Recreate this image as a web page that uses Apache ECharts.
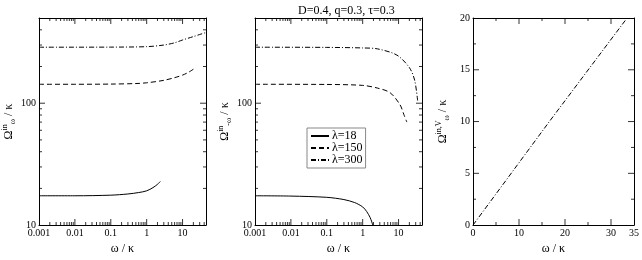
<!DOCTYPE html>
<html><head><meta charset="utf-8">
<script src="https://cdn.jsdelivr.net/npm/echarts@6/dist/echarts.min.js"></script>
<style>html,body{margin:0;padding:0;background:#fff}#c{width:642px;height:260px}</style>
</head><body><div id="c"></div>
<script>
// ---- data ----
const legendNames = ['λ=18', 'λ=150', 'λ=300'];
// panel 1 : Omega^in_omega
const p1_l18  = [[0.001,17.4],[0.01,17.4],[0.1,17.6],[0.3,18.0],[0.6,18.5],[1,19.1],[1.5,20.3],[2,21.6],[2.4,22.8]];
const p1_l150 = [[0.001,143],[0.01,143],[0.1,143.5],[0.5,145],[1,147],[3,154],[6,162],[10,170],[15,180],[20,190]];
const p1_l300 = [[0.001,288],[0.1,288.5],[1,291],[3,300],[6,313],[10,330],[20,352],[30,366],[45,380]];
// panel 2 : Omega^in_-omega
const p2_l18  = [[0.001,17.4],[0.01,17.3],[0.1,16.9],[0.3,16.2],[0.6,15.3],[1,14.1],[1.3,12.9],[1.6,11.6],[1.8,10.6],[1.9,10]];
const p2_l150 = [[0.001,143],[0.1,142.5],[1,140],[2.6,133],[5.8,122],[11,97],[14,81],[17,70]];
const p2_l300 = [[0.001,288],[0.1,287],[1,284],[2.6,279],[9,248],[20,196],[28,155],[34,105]];
// panel 3 : Omega^in,V_omega
const p3_line = [[0,0],[16.6,10],[33.5,20]];
// axes
const logX = {min: 0.001, max: 45};
const logY = {min: 10, max: 500};
const linX = {min: 0, max: 35, interval: 10};
const linY = {min: 0, max: 20, interval: 5};
const logXMajor = [0.01, 0.1, 1, 10];
const logYMajor = [100];
const linXMajor = [10, 20, 30];
const linXMinor = [5, 15, 25];
const linYMajor = [5, 10, 15];
const linYMinor = [2.5, 7.5, 12.5, 17.5];
const titleText = 'D=0.4, q=0.3, τ=0.3';

// ---- styling ----
const FONT = 'Liberation Serif';
const BLACK = '#000';
const MAJ = 6, MIN = 3;
const lab = () => ({color: BLACK, fontFamily: FONT, fontSize: 10, margin: 3});
const frameLine = () => ({show: true, onZero: false, lineStyle: {color: BLACK, width: 1}});
const grids = [
  {left: 38, top: 18, width: 168, height: 220},
  {left: 255, top: 18, width: 167, height: 220},
  {left: 473, top: 18, width: 166, height: 220}
];
function minorLog(ext) {
  const out = [];
  for (let e = Math.floor(Math.log10(ext.min)); e <= Math.ceil(Math.log10(ext.max)); e++) {
    for (let k = 2; k <= 9; k++) {
      const v = k * Math.pow(10, e);
      if (v > ext.min * 1.0001 && v < ext.max * 0.9999) out.push(v);
    }
  }
  return out;
}
function frameAxes(type, gi, ext, sides, name, nameGap, hideMax) {
  const base = {type: type, gridIndex: gi, min: ext.min, max: ext.max};
  if (type === 'log') base.logBase = 10; else base.interval = ext.interval;
  return [
    Object.assign({}, base, {position: sides[0], axisLine: frameLine(), splitLine: {show: false},
      axisTick: {show: false}, axisLabel: Object.assign({showMaxLabel: !hideMax}, lab()),
      name: name, nameLocation: 'middle', nameGap: nameGap}),
    Object.assign({}, base, {position: sides[1], axisLine: frameLine(), splitLine: {show: false},
      axisTick: {show: false}, axisLabel: {show: false}})
  ];
}
const xName = 'ω / κ';
const nameStyle = {color: BLACK, fontFamily: FONT, fontSize: 12};
const yRich = {
  a: {fontFamily: FONT, fontSize: 12, color: BLACK, lineHeight: 16},
  s: {fontFamily: FONT, fontSize: 8, color: BLACK, verticalAlign: 'top', lineHeight: 16},
  b: {fontFamily: FONT, fontSize: 8, color: BLACK, verticalAlign: 'bottom', lineHeight: 16}
};
const yName1 = '{a|Ω}{s|in}{b|ω}{a| / κ}';
const yName2 = '{a|Ω}{s|in}{b|-ω}{a| / κ}';
const yName3 = '{a|Ω}{s|in,V}{b|ω}{a| / κ}';

const xAxis = [].concat(
  frameAxes('log', 0, logX, ['bottom', 'top'], xName, 12, true),
  frameAxes('log', 1, logX, ['bottom', 'top'], xName, 12, true),
  frameAxes('value', 2, linX, ['bottom', 'top'], xName, 12, false)
);
const yAxis = [].concat(
  frameAxes('log', 0, logY, ['left', 'right'], yName1, 22, true),
  frameAxes('log', 1, logY, ['left', 'right'], yName2, 22, true),
  frameAxes('value', 2, linY, ['left', 'right'], yName3, 22, false)
);
xAxis.forEach(a => { if (a.name) a.nameTextStyle = nameStyle; });
yAxis.forEach(a => { if (a.name) { a.nameTextStyle = {rich: yRich}; a.nameRotate = 90; } });

const dashStyles = ['solid', [5, 3], [5, 2, 1, 2]];
function ser(name, data, ai, k) {
  return {type: 'line', name: name, data: data, xAxisIndex: ai, yAxisIndex: ai, symbol: 'none',
    smooth: 0.3, silent: true, animation: false,
    lineStyle: {color: BLACK, width: 1, type: dashStyles[k]}, itemStyle: {color: BLACK}};
}
// tick marks drawn inward from the frame, placed through the axes' own scales
function tickSeries(ai, xr, yr, xMaj, xMin, yMaj, yMin) {
  const out = [];
  const mk = (data, size, offset) => ({type: 'scatter', data: data, xAxisIndex: ai, yAxisIndex: ai,
    symbol: 'rect', symbolSize: size, symbolOffset: offset, silent: true, animation: false, clip: false,
    itemStyle: {color: BLACK}, z: 5});
  [[xMaj, MAJ], [xMin, MIN]].forEach(([vals, L]) => {
    out.push(mk(vals.map(v => [v, yr.min]), [1, L], [0, -L / 2]));
    out.push(mk(vals.map(v => [v, yr.max]), [1, L], [0, L / 2]));
  });
  [[yMaj, MAJ], [yMin, MIN]].forEach(([vals, L]) => {
    out.push(mk(vals.map(v => [xr.min, v]), [L, 1], [L / 2, 0]));
    out.push(mk(vals.map(v => [xr.max, v]), [L, 1], [-L / 2, 0]));
  });
  return out;
}
const series = [
  ser(legendNames[0], p1_l18, 0, 0),
  ser(legendNames[1], p1_l150, 0, 1),
  ser(legendNames[2], p1_l300, 0, 2),
  ser(legendNames[0], p2_l18, 2, 0),
  ser(legendNames[1], p2_l150, 2, 1),
  ser(legendNames[2], p2_l300, 2, 2),
  Object.assign(ser('V', p3_line, 4, 2), {smooth: false})
].concat(
  tickSeries(0, logX, logY, logXMajor, minorLog(logX), logYMajor, minorLog(logY)),
  tickSeries(2, logX, logY, logXMajor, minorLog(logX), logYMajor, minorLog(logY)),
  tickSeries(4, linX, linY, linXMajor, linXMinor, linYMajor, linYMinor)
);

const chart = echarts.init(document.getElementById('c'), null, {renderer: 'canvas'});
chart.setOption({
  animation: false,
  backgroundColor: '#fff',
  title: {text: titleText, left: 293, top: 0,
    textStyle: {fontFamily: FONT, fontSize: 12, fontWeight: 'normal', color: BLACK}},
  legend: {data: legendNames, orient: 'vertical', left: 307, top: 128,
    borderColor: '#888', borderWidth: 1, backgroundColor: '#fff', padding: [2, 3, 2, 3],
    itemGap: 0, itemWidth: 18, itemHeight: 11, selectedMode: false,
    itemStyle: {opacity: 0, borderWidth: 0},
    textStyle: {fontFamily: FONT, fontSize: 12, color: BLACK, padding: [0, 0, 0, -2]}},
  grid: grids.map(g => Object.assign({show: false}, g)),
  xAxis: xAxis,
  yAxis: yAxis,
  series: series
});
</script></body></html>
